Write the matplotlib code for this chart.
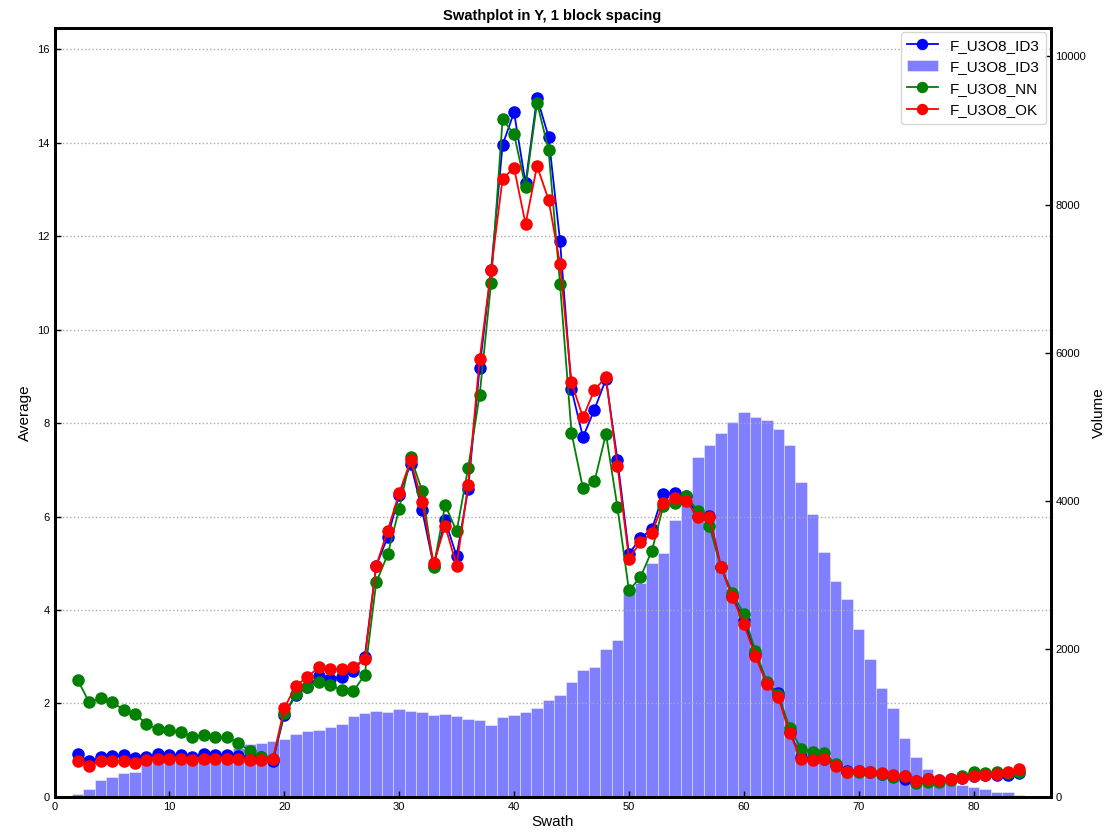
import matplotlib
matplotlib.use("Agg")
import matplotlib.pyplot as plt
import numpy as np

plt.rcParams['font.family'] = ['Liberation Sans', 'DejaVu Sans']

swath = list(range(2, 85))

# average grade per swath
id3 = [0.91, 0.76, 0.85, 0.88, 0.89, 0.84, 0.86, 0.91, 0.90, 0.89, 0.86, 0.91, 0.89, 0.89, 0.87, 0.85, 0.85, 0.77,
       1.76, 2.18, 2.36, 2.58, 2.53, 2.56, 2.70, 2.99, 4.95, 5.56, 6.47, 7.13, 6.13, 4.95, 5.92, 5.15, 6.59, 9.18,
       11.27, 13.95, 14.65, 13.13, 14.96, 14.13, 11.90, 8.72, 7.70, 8.29, 8.94, 7.22, 5.20, 5.54, 5.73, 6.49, 6.50,
       6.43, 6.02, 6.02, 4.93, 4.29, 3.79, 3.05, 2.44, 2.22, 1.38, 0.85, 0.82, 0.82, 0.68, 0.55, 0.55, 0.53, 0.50,
       0.45, 0.39, 0.34, 0.38, 0.37, 0.38, 0.41, 0.45, 0.46, 0.48, 0.46, 0.52]
nn = [2.51, 2.03, 2.11, 2.04, 1.86, 1.78, 1.56, 1.45, 1.43, 1.38, 1.29, 1.32, 1.29, 1.28, 1.16, 0.98, 0.86, 0.81,
      1.79, 2.20, 2.36, 2.47, 2.40, 2.28, 2.26, 2.61, 4.59, 5.19, 6.17, 7.27, 6.55, 4.92, 6.25, 5.68, 7.04, 8.59,
      11.0, 14.50, 14.18, 13.05, 14.85, 13.85, 10.98, 7.79, 6.60, 6.75, 7.77, 6.20, 4.42, 4.70, 5.27, 6.23, 6.30,
      6.43, 6.12, 5.80, 4.92, 4.37, 3.91, 3.13, 2.47, 2.18, 1.47, 1.03, 0.96, 0.94, 0.70, 0.53, 0.53, 0.53, 0.50,
      0.43, 0.45, 0.29, 0.31, 0.33, 0.36, 0.45, 0.53, 0.51, 0.53, 0.52, 0.54]
ok = [0.77, 0.67, 0.76, 0.77, 0.77, 0.73, 0.79, 0.82, 0.82, 0.81, 0.79, 0.81, 0.81, 0.81, 0.81, 0.79, 0.80, 0.81,
      1.90, 2.38, 2.56, 2.78, 2.74, 2.74, 2.78, 2.95, 4.95, 5.70, 6.50, 7.20, 6.31, 5.00, 5.80, 4.95, 6.67, 9.36,
      11.27, 13.23, 13.46, 12.26, 13.50, 12.78, 11.41, 8.87, 8.12, 8.71, 8.98, 7.09, 5.10, 5.45, 5.65, 6.29, 6.40,
      6.33, 5.99, 6.00, 4.93, 4.28, 3.70, 3.02, 2.42, 2.13, 1.36, 0.81, 0.79, 0.81, 0.67, 0.54, 0.56, 0.53, 0.51,
      0.46, 0.44, 0.35, 0.39, 0.36, 0.38, 0.41, 0.45, 0.46, 0.49, 0.53, 0.60]

# block volume per swath
volume = [40, 112, 230, 275, 325, 338, 464, 470, 475, 478, 520, 600, 615, 625, 655, 712, 734, 761,
          785, 850, 890, 905, 942, 986, 1095, 1139, 1162, 1153, 1189, 1162, 1144, 1108, 1122, 1099, 1054, 1040,
          973, 1085, 1113, 1149, 1207, 1311, 1378, 1554, 1720, 1757, 1999, 2122, 2780, 2890, 3162, 3301, 3743,
          4118, 4595, 4757, 4920, 5070, 5193, 5126, 5095, 4973, 4757, 4248, 3824, 3311, 2919, 2676, 2266, 1865,
          1473, 1205, 800, 543, 378, 230, 195, 162, 133, 106, 68, 68, 25]

fig = plt.figure(figsize=(11.14, 8.36), dpi=100)
ax1 = fig.add_axes([0.049, 0.0467, 0.894, 0.92])
ax2 = ax1.twinx()
ax1.set_zorder(ax2.get_zorder() + 1)
ax1.patch.set_visible(False)

bars = ax2.bar(swath, volume, width=1.0, color='blue', alpha=0.5, edgecolor='white', linewidth=0.6,
               label='F_U3O8_ID3')
l1, = ax1.plot(swath, id3, '-o', color='blue', markersize=8, linewidth=1.3, label='F_U3O8_ID3')
l2, = ax1.plot(swath, nn, '-o', color='green', markersize=8, linewidth=1.3, label='F_U3O8_NN')
l3, = ax1.plot(swath, ok, '-o', color='red', markersize=8, linewidth=1.3, label='F_U3O8_OK')

ax1.set_xlim(0, 86.7)
ax1.set_ylim(0, max(id3) * 1.1)
ax2.set_ylim(0, max(volume) * 2)

ax1.yaxis.grid(True, linestyle=':', color='#aaaaaa', linewidth=1)
ax1.set_yticks(np.arange(0, 17, 2))
ax2.set_yticks(np.arange(0, 10001, 2000))

for ax in (ax1, ax2):
    ax.tick_params(direction='in', labelsize=8, length=4, width=1)
    for sp in ax.spines.values():
        sp.set_linewidth(2)

ax1.set_xlabel('Swath', fontsize=11, labelpad=2)
ax1.set_ylabel('Average', fontsize=11)
ax2.set_ylabel('Volume', fontsize=11)
ax1.set_title('Swathplot in Y, 1 block spacing', fontsize=10.6, fontweight='bold')

ax1.legend([l1, bars, l2, l3], ['F_U3O8_ID3', 'F_U3O8_ID3', 'F_U3O8_NN', 'F_U3O8_OK'],
           loc='upper right', fontsize=11, borderaxespad=0.3, handlelength=2, markerscale=0.9)

fig.savefig('out.png', dpi=100)
